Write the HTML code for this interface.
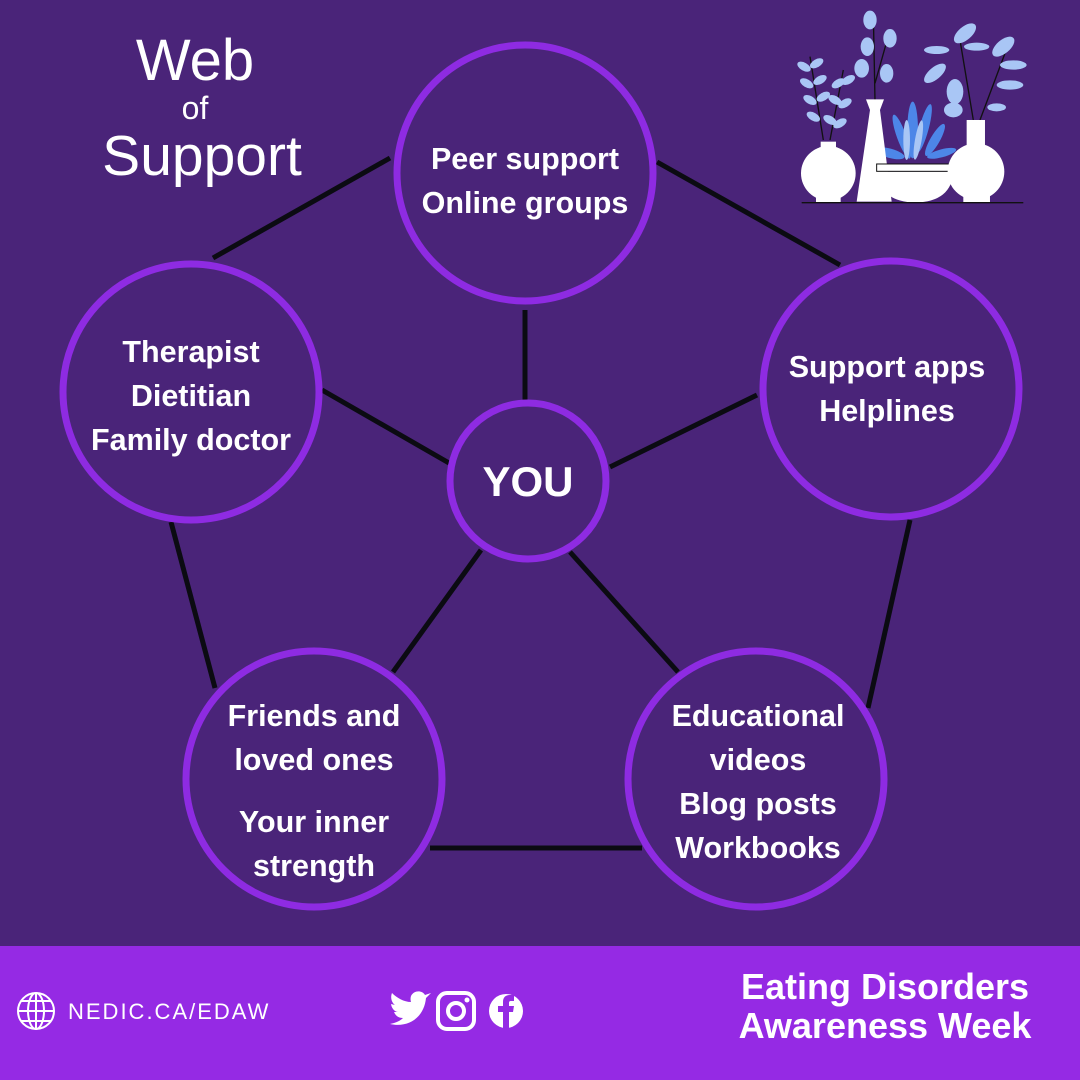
<!DOCTYPE html>
<html><head><meta charset="utf-8"><style>
body{margin:0;width:1080px;height:1080px;overflow:hidden;background:#4a2479;font-family:"Liberation Sans",sans-serif}
svg{position:absolute;left:0;top:0}
</style></head><body>
<svg width="1080" height="1080" viewBox="0 0 1080 1080">
<rect width="1080" height="1080" fill="#4a2479"/>
<g stroke="#0b0b12" stroke-width="5">
<line x1="213" y1="258" x2="390" y2="158"/>
<line x1="657" y1="162" x2="840" y2="265"/>
<line x1="910" y1="520" x2="868" y2="708"/>
<line x1="430" y1="848" x2="642" y2="848"/>
<line x1="171" y1="522" x2="215" y2="688"/>
<line x1="525" y1="310" x2="525" y2="400"/>
<line x1="322" y1="390" x2="449" y2="463"/>
<line x1="610" y1="467" x2="757" y2="395"/>
<line x1="481" y1="550" x2="393" y2="672"/>
<line x1="570" y1="552" x2="678" y2="672"/>
</g>
<g fill="none" stroke="#8e2be2" stroke-width="7">
<circle cx="525" cy="173" r="128"/>
<circle cx="191" cy="392" r="128"/>
<circle cx="891" cy="389" r="128"/>
<circle cx="314" cy="779" r="128"/>
<circle cx="756" cy="779" r="128"/>
<circle cx="528" cy="481" r="78"/>
</g>
<g fill="#fff" font-weight="bold" font-size="30.5" text-anchor="middle">
<text x="525" y="169">Peer support</text>
<text x="525" y="213">Online groups</text>
<text x="191" y="362">Therapist</text>
<text x="191" y="406">Dietitian</text>
<text x="191" y="450">Family doctor</text>
<text x="887" y="377">Support apps</text>
<text x="887" y="421">Helplines</text>
<text x="314" y="726">Friends and</text>
<text x="314" y="770">loved ones</text>
<text x="314" y="832">Your inner</text>
<text x="314" y="876">strength</text>
<text x="758" y="726">Educational</text>
<text x="758" y="770">videos</text>
<text x="758" y="814">Blog posts</text>
<text x="758" y="858">Workbooks</text>
<text x="528" y="496" font-size="42">YOU</text>
</g>
<g fill="#fff" text-anchor="middle">
<text x="195" y="80" font-size="58">Web</text>
<text x="195" y="119" font-size="32">of</text>
<text x="202" y="175" font-size="57">Support</text>
</g>
<!-- plants -->
<g transform="translate(780,0) scale(0.3333)">
<g stroke="#111" stroke-width="4" fill="none">
<path d="M130 420 L90 170 M150 420 L190 210 M285 300 L280 40 M285 250 L330 90 M580 360 L540 120 M600 360 L690 120"/>
</g>
<g fill="#a9c6f5">
<ellipse cx="72" cy="200" rx="22" ry="12" transform="rotate(30 72 200)"/><ellipse cx="110" cy="190" rx="22" ry="12" transform="rotate(-30 110 190)"/>
<ellipse cx="80" cy="250" rx="22" ry="12" transform="rotate(30 80 250)"/><ellipse cx="120" cy="240" rx="22" ry="12" transform="rotate(-30 120 240)"/>
<ellipse cx="90" cy="300" rx="22" ry="12" transform="rotate(30 90 300)"/><ellipse cx="130" cy="290" rx="22" ry="12" transform="rotate(-30 130 290)"/>
<ellipse cx="100" cy="350" rx="22" ry="12" transform="rotate(30 100 350)"/><ellipse cx="175" cy="250" rx="22" ry="12" transform="rotate(-30 175 250)"/>
<ellipse cx="205" cy="240" rx="22" ry="12" transform="rotate(-30 205 240)"/><ellipse cx="165" cy="300" rx="22" ry="12" transform="rotate(30 165 300)"/><ellipse cx="195" cy="310" rx="22" ry="12" transform="rotate(-30 195 310)"/><ellipse cx="150" cy="360" rx="22" ry="12" transform="rotate(30 150 360)"/><ellipse cx="180" cy="370" rx="22" ry="12" transform="rotate(-30 180 370)"/>
<ellipse cx="270" cy="60" rx="20" ry="28"/><ellipse cx="330" cy="115" rx="20" ry="28"/><ellipse cx="262" cy="140" rx="20" ry="28"/><ellipse cx="245" cy="205" rx="22" ry="28"/><ellipse cx="320" cy="220" rx="20" ry="28"/>
<ellipse cx="555" cy="100" rx="40" ry="20" transform="rotate(-40 555 100)"/><ellipse cx="670" cy="140" rx="40" ry="20" transform="rotate(-40 670 140)"/><ellipse cx="470" cy="150" rx="38" ry="12"/><ellipse cx="590" cy="140" rx="38" ry="12"/><ellipse cx="465" cy="220" rx="40" ry="18" transform="rotate(-40 465 220)"/><ellipse cx="700" cy="195" rx="40" ry="14"/><ellipse cx="690" cy="255" rx="40" ry="14"/><ellipse cx="525" cy="275" rx="25" ry="38"/><ellipse cx="520" cy="330" rx="28" ry="22"/><ellipse cx="650" cy="322" rx="28" ry="12"/>
</g>
<g fill="#4d86e8">
<ellipse cx="330" cy="460" rx="45" ry="14" transform="rotate(15 330 460)"/><ellipse cx="365" cy="410" rx="14" ry="70" transform="rotate(-20 365 410)"/><ellipse cx="398" cy="390" rx="16" ry="85"/><ellipse cx="432" cy="385" rx="14" ry="75" transform="rotate(15 432 385)"/><ellipse cx="465" cy="420" rx="14" ry="55" transform="rotate(30 465 420)"/><ellipse cx="485" cy="460" rx="45" ry="12" transform="rotate(-15 485 460)"/>
</g>
<g fill="#a9c6f5"><ellipse cx="380" cy="420" rx="10" ry="60"/><ellipse cx="415" cy="420" rx="10" ry="60" transform="rotate(10 415 420)"/></g>
<g fill="#fff">
<circle cx="145" cy="520" r="82"/><rect x="108" y="585" width="74" height="23"/><rect x="122" y="425" width="46" height="30"/>
<path d="M258 298 L312 298 L300 330 L335 605 L230 605 L270 330 Z"/>
<path d="M292 515 L520 515 Q515 605 406 608 Q297 605 292 515 Z"/><rect x="290" y="492" width="230" height="22" stroke="#111" stroke-width="3"/>
<circle cx="588" cy="515" r="85"/><rect x="560" y="360" width="55" height="100"/><rect x="550" y="585" width="80" height="23"/>
</g>
<line x1="65" y1="608" x2="730" y2="608" stroke="#111" stroke-width="4"/>
</g>
<rect x="0" y="946" width="1080" height="134" fill="#952ae4"/>
<g stroke="#fff" stroke-width="2" fill="none">
<circle cx="36" cy="1011" r="18"/><ellipse cx="36" cy="1011" rx="8" ry="18"/>
<line x1="18" y1="1011" x2="54" y2="1011"/><line x1="21" y1="1001" x2="51" y2="1001"/><line x1="21" y1="1021" x2="51" y2="1021"/><line x1="36" y1="993" x2="36" y2="1029"/>
<rect x="438" y="993" width="36" height="36" rx="9" stroke-width="4"/><circle cx="456" cy="1011" r="8" stroke-width="4"/>
</g>
<circle cx="467" cy="1000" r="2.5" fill="#fff"/>
<path d="M390 1024 C408 1028 424 1018 426 998 L431 993 L425 995 C422 990 414 990 411 996 C410 999 411 1002 411 1002 C404 1002 397 998 392 993 C390 998 392 1003 395 1005 L391 1004 C392 1010 396 1012 398 1012 L394 1012 C396 1017 400 1018 403 1018 C399 1022 394 1023 390 1024Z" fill="#fff"/>
<circle cx="506" cy="1011" r="17" fill="#fff"/>
<path d="M503 1028 V1012 H498 V1006 H503 V1002 C503 997 506 995 510 995 L514 995 V1001 L511 1001 C509 1001 509 1002 509 1004 V1006 H514 L513 1012 H509 V1028Z" fill="#952ae4"/>
<text x="68" y="1019" fill="#fff" font-size="22" letter-spacing="2">NEDIC.CA/EDAW</text>
<g fill="#fff" font-weight="bold" font-size="36" text-anchor="middle">
<text x="885" y="999">Eating Disorders</text>
<text x="885" y="1038">Awareness Week</text>
</g>
</svg>
</body></html>
